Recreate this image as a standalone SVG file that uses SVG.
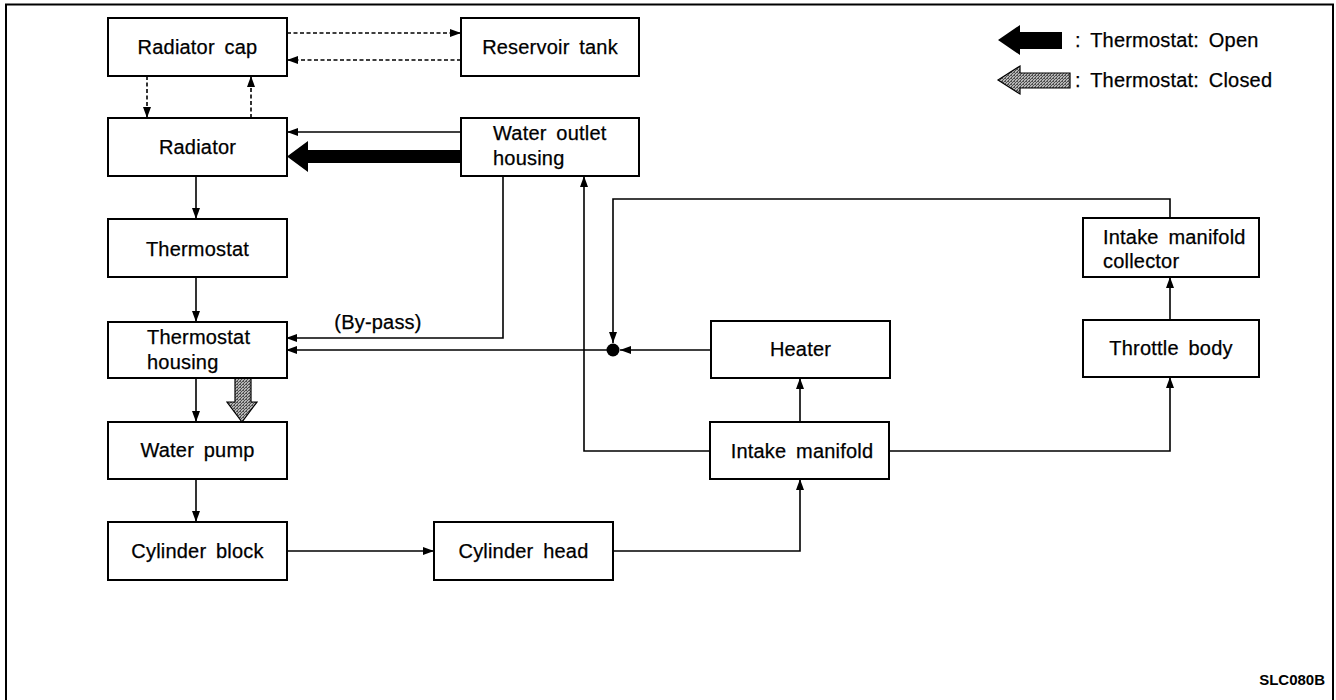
<svg xmlns="http://www.w3.org/2000/svg" width="1336" height="700" viewBox="0 0 1336 700">
<defs>
<style>
.box{fill:#fff;stroke:#000;stroke-width:2}
.t{font-family:"Liberation Sans",Arial,sans-serif;font-size:20px;letter-spacing:0.2px;word-spacing:4px;fill:#000;stroke:#000;stroke-width:0.25}
.c{text-anchor:middle}
.ln{fill:none;stroke:#000;stroke-width:1.6}
.dash{fill:none;stroke:#000;stroke-width:1.6;stroke-dasharray:4 2.5}
.arr{marker-end:url(#ah)}
</style>
<marker id="ah" markerUnits="userSpaceOnUse" markerWidth="11" markerHeight="8" refX="11" refY="4" orient="auto">
<path d="M0,0 L11,4 L0,8 z" fill="#000"/>
</marker>
<pattern id="hatch" patternUnits="userSpaceOnUse" width="3" height="3">
<rect width="3" height="3" fill="#b5b5b5"/>
<path d="M0,3 L3,0" stroke="#333" stroke-width="0.8"/>
<rect x="0" y="0" width="1" height="1" fill="#555"/>
</pattern>
</defs>
<rect width="1336" height="700" fill="#fff"/>
<path d="M6,700 V4.5 H1333 V700" fill="none" stroke="#000" stroke-width="2"/>

<g id="connectors">
<path class="dash arr" d="M287,33 H461"/>
<path class="dash arr" d="M461,60 H287"/>
<path class="dash arr" d="M147,76 V118"/>
<path class="dash arr" d="M251,118 V76"/>
<path class="ln arr" d="M461,132 H287"/>
<polygon points="287,156.5 308,141 308,150 461,150 461,163 308,163 308,172" fill="#000"/>
<path class="ln arr" d="M196,176 V219"/>
<path class="ln arr" d="M196,277 V322"/>
<path class="ln arr" d="M196,378 V422"/>
<polygon points="235,378 251,378 251,402 257,402 242,422 227,402 235,402" fill="url(#hatch)" stroke="#000" stroke-width="1.2"/>
<path class="ln arr" d="M196,479 V522"/>
<path class="ln arr" d="M287,551 H434"/>
<path class="ln arr" d="M613,551 H800 V479"/>
<path class="ln arr" d="M800,422 V378"/>
<path class="ln arr" d="M711,350 H620"/>
<path class="ln arr" d="M613,350 H286"/>
<path class="ln arr" d="M503,176 V338 H286"/>
<path class="ln arr" d="M710,451 H584 V176"/>
<path class="ln arr" d="M889,451 H1170 V377"/>
<path class="ln arr" d="M1170,320 V277"/>
<path class="ln arr" d="M1170,218 V199 H613 V343"/>
<circle cx="613" cy="350" r="6.5" fill="#000"/>
</g>

<g id="radiator-cap"><rect class="box" x="108" y="18" width="179" height="58"/><text class="t c" x="197.5" y="54">Radiator cap</text></g>
<g id="reservoir-tank"><rect class="box" x="461" y="18" width="178" height="58"/><text class="t c" x="550" y="54">Reservoir tank</text></g>
<g id="radiator"><rect class="box" x="108" y="118" width="179" height="58"/><text class="t c" x="197.5" y="154">Radiator</text></g>
<g id="water-outlet-housing"><rect class="box" x="461" y="118" width="178" height="58"/><text class="t" x="493" y="140">Water outlet</text><text class="t" x="493" y="165">housing</text></g>
<g id="thermostat"><rect class="box" x="108" y="219" width="179" height="58"/><text class="t c" x="197.5" y="256">Thermostat</text></g>
<g id="thermostat-housing"><rect class="box" x="108" y="322" width="179" height="56"/><text class="t" x="147" y="344">Thermostat</text><text class="t" x="147" y="369">housing</text></g>
<g id="water-pump"><rect class="box" x="108" y="422" width="179" height="57"/><text class="t c" x="197.5" y="457">Water pump</text></g>
<g id="cylinder-block"><rect class="box" x="108" y="522" width="179" height="58"/><text class="t c" x="197.5" y="558">Cylinder block</text></g>
<g id="cylinder-head"><rect class="box" x="434" y="522" width="179" height="58"/><text class="t c" x="523.5" y="558">Cylinder head</text></g>
<g id="intake-manifold"><rect class="box" x="710" y="422" width="179" height="57"/><text class="t c" x="802" y="458">Intake manifold</text></g>
<g id="heater"><rect class="box" x="711" y="321" width="179" height="57"/><text class="t c" x="800.5" y="356">Heater</text></g>
<g id="throttle-body"><rect class="box" x="1083" y="320" width="176" height="57"/><text class="t c" x="1171" y="355">Throttle body</text></g>
<g id="intake-manifold-collector"><rect class="box" x="1083" y="218" width="176" height="59"/><text class="t" x="1103" y="244">Intake manifold</text><text class="t" x="1103" y="268">collector</text></g>

<text class="t c" x="378" y="329">(By-pass)</text>

<g id="legend">
<polygon points="998,40 1020,25 1020,32 1062,32 1062,49 1020,49 1020,55" fill="#000"/>
<text class="t" x="1075" y="47">: Thermostat: Open</text>
<polygon points="998,80 1020,66 1020,73 1070,73 1070,88 1020,88 1020,94" fill="url(#hatch)" stroke="#000" stroke-width="1.2"/>
<text class="t" x="1075" y="87">: Thermostat: Closed</text>
</g>
<text x="1325" y="685" text-anchor="end" font-family="Liberation Sans, Arial, sans-serif" font-size="15" font-weight="bold">SLC080B</text>
</svg>
